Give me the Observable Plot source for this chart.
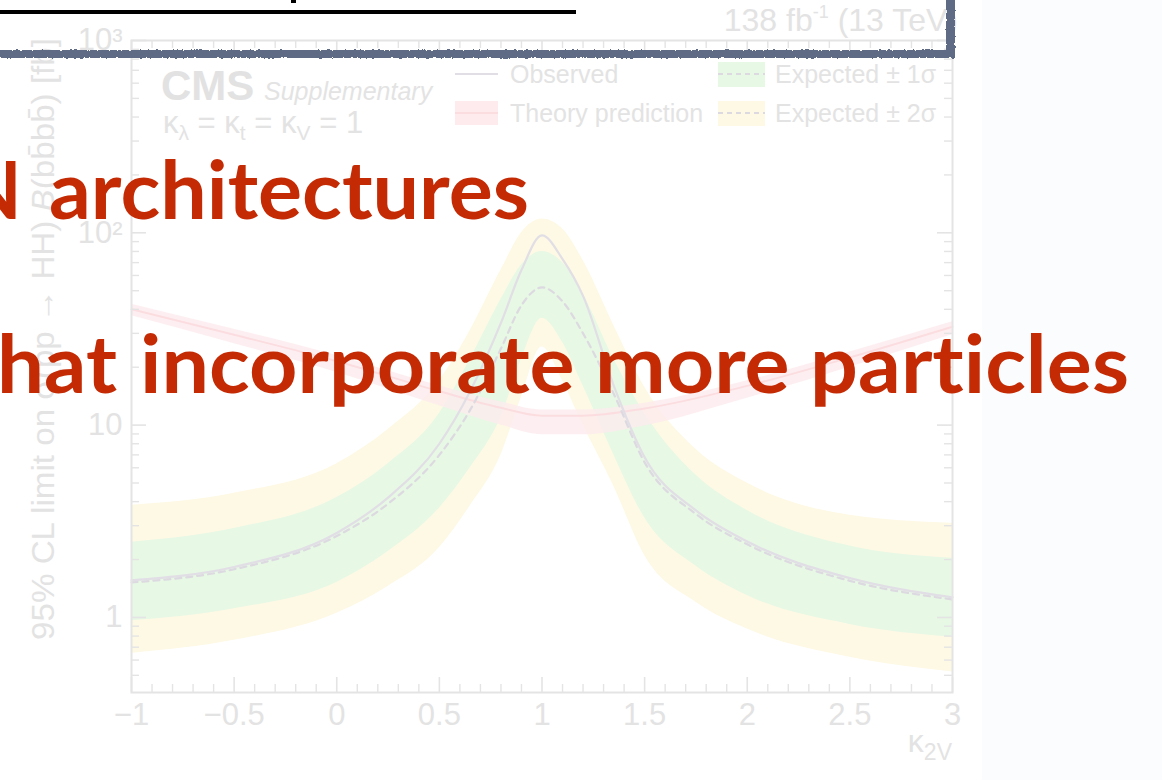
<!DOCTYPE html>
<html>
<head>
<meta charset="utf-8">
<script src="https://cdn.jsdelivr.net/npm/d3@7"></script>
<script src="https://cdn.jsdelivr.net/npm/@observablehq/plot@0.6"></script>
<style>
  html, body { margin: 0; padding: 0; width: 1162px; height: 780px; overflow: hidden; background: #fbfcfe; }
  #chart { position: absolute; left: 0; top: 0; width: 982px; height: 780px; background: #ffffff; }
  #overlay { position: absolute; left: 0; top: 0; pointer-events: none; }
  .slide { font-variant-ligatures: none; font-feature-settings: "liga" 0, "clig" 0; }
</style>
</head>
<body>
<div id="chart"></div>
<svg id="overlay" width="1162" height="780" xmlns="http://www.w3.org/2000/svg"></svg>
<script>
// ---- data (kappa_2V scan, limits in fb) ----
const kappa    = [-1, -0.5, 0, 0.25, 0.5, 0.65, 0.8, 0.9, 1.0, 1.1, 1.2, 1.35, 1.5, 1.75, 2.0, 2.5, 3.0];
const observed = [1.56, 1.83, 2.75, 4.2, 8.0, 15, 34, 64, 97, 73, 47, 16, 6.8, 3.6, 2.48, 1.6, 1.27];
const expected = [1.52, 1.78, 2.65, 3.9, 7.0, 12, 25, 42, 52, 44, 30, 14.5, 6.4, 3.45, 2.4, 1.55, 1.24];
const sigma1Lo = [0.96, 1.11, 1.52, 2.2, 3.7, 6, 11, 22, 36, 27, 16, 7, 3.3, 1.85, 1.3, 0.92, 0.79];
const sigma1Hi = [2.46, 2.9, 4.2, 6.3, 11.5, 22, 45, 68, 80, 70, 48, 22, 11.5, 5.5, 3.6, 2.35, 2.03];
const sigma2Lo = [0.65, 0.76, 1.05, 1.45, 2.3, 3.8, 7.0, 14, 25.5, 17, 10, 4.8, 2.1, 1.2, 0.87, 0.62, 0.52];
const sigma2Hi = [3.83, 4.42, 6.3, 9.5, 17, 31, 64, 100, 118, 105, 72, 33, 15.8, 7.5, 5.0, 3.4, 3.09];

const theoryKappa = [-1, -0.5, 0, 0.5, 0.8, 1.0, 1.2, 1.5, 2.0, 2.5, 3.0];
const theory      = [40, 29.5, 21.5, 15, 12.3, 11.2, 11.2, 12.2, 16, 22.5, 32.5];
const theoryLo    = [37, 26.5, 18.8, 12.6, 10, 8.9, 8.9, 9.9, 13.8, 20, 29.5];
const theoryHi    = [42.5, 31.5, 23, 16, 13.2, 12, 12, 13, 17, 24, 34.5];

// ---- ticks & labels ----
const xMajorTicks = [-1, -0.5, 0, 0.5, 1, 1.5, 2, 2.5, 3];
const xTickLabels = ["\u22121", "\u22120.5", "0", "0.5", "1", "1.5", "2", "2.5", "3"];
const xMinorTicks = [-0.9, -0.8, -0.7, -0.6, -0.4, -0.3, -0.2, -0.1, 0.1, 0.2, 0.3, 0.4, 0.6, 0.7, 0.8, 0.9,
                     1.1, 1.2, 1.3, 1.4, 1.6, 1.7, 1.8, 1.9, 2.1, 2.2, 2.3, 2.4, 2.6, 2.7, 2.8, 2.9];
const yMajorTicks = [1, 10, 100, 1000];
const yTickLabels = ["1", "10", "10\u00B2", "10\u00B3"];
const yMinorTicks = [0.5, 0.6, 0.7, 0.8, 0.9, 2, 3, 4, 5, 6, 7, 8, 9, 20, 30, 40, 50, 60, 70, 80, 90,
                     200, 300, 400, 500, 600, 700, 800, 900];

const bandRows = kappa.map((k, i) => ({k, obs: observed[i], exp: expected[i],
  s1lo: sigma1Lo[i], s1hi: sigma1Hi[i], s2lo: sigma2Lo[i], s2hi: sigma2Hi[i]}));
const theoryRows = theoryKappa.map((k, i) => ({k, v: theory[i], lo: theoryLo[i], hi: theoryHi[i]}));
const xLabelOf = new Map(xMajorTicks.map((d, i) => [d, xTickLabels[i]]));
const yLabelOf = new Map(yMajorTicks.map((d, i) => [d, yTickLabels[i]]));

const W = 982, H = 780, ML = 131, MR = 30, MT = 40, MB = 88;
const innerW = W - ML - MR, innerH = H - MT - MB;
const axisCol = "#e4e4e4";

const plot = Plot.plot({
  width: W, height: H,
  marginLeft: ML, marginRight: MR, marginTop: MT, marginBottom: MB,
  style: {background: "transparent", color: axisCol, fontFamily: "'Liberation Sans', Arial, sans-serif"},
  x: {domain: [-1, 3], label: null},
  y: {type: "log", domain: [0.407, 1000], label: null},
  marks: [
    Plot.areaY(bandRows, {x: "k", y1: "s2lo", y2: "s2hi", fill: "#fef9e5", curve: "monotone-x"}),
    Plot.areaY(bandRows, {x: "k", y1: "s1lo", y2: "s1hi", fill: "#e7f8e5", curve: "monotone-x"}),
    Plot.areaY(theoryRows, {x: "k", y1: "lo", y2: "hi", fill: "#fdebed", fillOpacity: 0.8, curve: "monotone-x"}),
    Plot.lineY(theoryRows, {x: "k", y: "v", stroke: "#fbdde0", strokeWidth: 2, curve: "monotone-x"}),
    Plot.lineY(bandRows, {x: "k", y: "exp", stroke: "#dcd9e0", strokeWidth: 2.2, strokeDasharray: "6,5", curve: "monotone-x"}),
    Plot.lineY(bandRows, {x: "k", y: "obs", stroke: "#e1dee5", strokeWidth: 2.2, curve: "monotone-x"}),
    // ticks (inside, both sides)
    Plot.tickX(xMajorTicks, {x: d => d, insetTop: innerH - 15, stroke: axisCol, strokeWidth: 1.6}),
    Plot.tickX(xMajorTicks, {x: d => d, insetBottom: innerH - 15, stroke: axisCol, strokeWidth: 1.6}),
    Plot.tickX(xMinorTicks, {x: d => d, insetTop: innerH - 8, stroke: axisCol, strokeWidth: 1.4}),
    Plot.tickX(xMinorTicks, {x: d => d, insetBottom: innerH - 8, stroke: axisCol, strokeWidth: 1.4}),
    Plot.tickY(yMajorTicks, {y: d => d, insetRight: innerW - 15, stroke: axisCol, strokeWidth: 1.6}),
    Plot.tickY(yMajorTicks, {y: d => d, insetLeft: innerW - 15, stroke: axisCol, strokeWidth: 1.6}),
    Plot.tickY(yMinorTicks, {y: d => d, insetRight: innerW - 8, stroke: axisCol, strokeWidth: 1.4}),
    Plot.tickY(yMinorTicks, {y: d => d, insetLeft: innerW - 8, stroke: axisCol, strokeWidth: 1.4}),
    Plot.frame({stroke: axisCol, strokeWidth: 2}),
    Plot.axisX({ticks: xMajorTicks, tickFormat: d => xLabelOf.get(d), tickSize: 0, tickPadding: 10,
                fontSize: 31, label: null, fill: "#e3e3e3"}),
    Plot.axisY({ticks: yMajorTicks, tickFormat: d => yLabelOf.get(d), tickSize: 0, tickPadding: 9,
                fontSize: 31, label: null, fill: "#e3e3e3"})
  ]
});
document.getElementById("chart").appendChild(plot);

// ---- annotations (chart labels, legend, slide overlay) ----
const ov = d3.select("#overlay");
const FF = "'Liberation Sans', Arial, sans-serif";
const txtCol = "#e3e3e3";

// CMS label
ov.append("text").attr("x", 161).attr("y", 100).attr("font-family", FF).attr("font-weight", "bold")
  .attr("font-size", 42).attr("fill", "#e2e2e2").text("CMS");
ov.append("text").attr("x", 264).attr("y", 100).attr("font-family", FF).attr("font-style", "italic")
  .attr("font-size", 25).attr("fill", txtCol).text("Supplementary");
const kl = ov.append("text").attr("x", 163).attr("y", 133).attr("font-family", FF).attr("font-size", 31).attr("fill", txtCol);
kl.append("tspan").text("\u03BA");
kl.append("tspan").attr("font-size", 21).attr("dy", 7).text("\u03BB");
kl.append("tspan").attr("dy", -7).text(" = \u03BA");
kl.append("tspan").attr("font-size", 21).attr("dy", 7).text("t");
kl.append("tspan").attr("dy", -7).text(" = \u03BA");
kl.append("tspan").attr("font-size", 21).attr("dy", 7).text("V");
kl.append("tspan").attr("dy", -7).text(" = 1");

// luminosity
const lum = ov.append("text").attr("x", 958).attr("y", 31).attr("text-anchor", "end").attr("font-family", FF)
  .attr("font-size", 32).attr("fill", txtCol);
lum.append("tspan").text("138 fb");
lum.append("tspan").attr("font-size", 18).attr("dy", -13).text("-1");
lum.append("tspan").attr("dy", 13).text(" (13 TeV)");

// legend
ov.append("line").attr("x1", 455).attr("x2", 498).attr("y1", 74).attr("y2", 74).attr("stroke", "#e1dee5").attr("stroke-width", 2.2);
ov.append("text").attr("x", 510).attr("y", 83).attr("font-family", FF).attr("font-size", 25).attr("fill", txtCol).text("Observed");
ov.append("rect").attr("x", 455).attr("y", 101).attr("width", 43).attr("height", 24).attr("fill", "#fdebed");
ov.append("line").attr("x1", 455).attr("x2", 498).attr("y1", 113).attr("y2", 113).attr("stroke", "#fbdde0").attr("stroke-width", 2);
ov.append("text").attr("x", 510).attr("y", 122).attr("font-family", FF).attr("font-size", 25).attr("fill", txtCol).text("Theory prediction");
ov.append("rect").attr("x", 718).attr("y", 62).attr("width", 47).attr("height", 25).attr("fill", "#e7f8e5");
ov.append("line").attr("x1", 718).attr("x2", 765).attr("y1", 74).attr("y2", 74).attr("stroke", "#dcd9e0").attr("stroke-width", 2).attr("stroke-dasharray", "5,4");
ov.append("text").attr("x", 775).attr("y", 83).attr("font-family", FF).attr("font-size", 25).attr("fill", txtCol).text("Expected \u00B1 1\u03C3");
ov.append("rect").attr("x", 718).attr("y", 101).attr("width", 47).attr("height", 25).attr("fill", "#fef9e5");
ov.append("line").attr("x1", 718).attr("x2", 765).attr("y1", 113).attr("y2", 113).attr("stroke", "#dcd9e0").attr("stroke-width", 2).attr("stroke-dasharray", "5,4");
ov.append("text").attr("x", 775).attr("y", 122).attr("font-family", FF).attr("font-size", 25).attr("fill", txtCol).text("Expected \u00B1 2\u03C3");

// axis titles
const xt = ov.append("text").attr("x", 952).attr("y", 752).attr("text-anchor", "end").attr("font-family", FF)
  .attr("font-size", 32).attr("fill", txtCol);
xt.append("tspan").text("\u03BA");
xt.append("tspan").attr("font-size", 23).attr("dy", 8).text("2V");

const yt = ov.append("text").attr("transform", "translate(54,38) rotate(-90)").attr("text-anchor", "end")
  .attr("font-family", FF).attr("font-size", 31).attr("fill", txtCol)
  .attr("textLength", 602).attr("lengthAdjust", "spacingAndGlyphs");
yt.append("tspan").text("95% CL limit on \u03C3(pp \u2192 HH) ");
yt.append("tspan").attr("font-style", "italic").text("B");
yt.append("tspan").text("(bb\u0304bb\u0304) [fb]");

// slide decorations
ov.append("rect").attr("x", 0).attr("y", 10).attr("width", 576).attr("height", 4).attr("fill", "#000");
ov.append("rect").attr("x", 291).attr("y", 0).attr("width", 5).attr("height", 3).attr("fill", "#000");
const defs = ov.append("defs");
const filt = defs.append("filter").attr("id", "rough").attr("x", "-5%").attr("y", "-50%").attr("width", "110%").attr("height", "200%");
filt.append("feTurbulence").attr("type", "fractalNoise").attr("baseFrequency", "0.35").attr("numOctaves", 2).attr("result", "n");
filt.append("feDisplacementMap").attr("in", "SourceGraphic").attr("in2", "n").attr("scale", 3);
const chalk = ov.append("g").attr("filter", "url(#rough)").attr("fill", "#5f6b85");
chalk.append("rect").attr("x", 0).attr("y", 50).attr("width", 955).attr("height", 8);
chalk.append("rect").attr("x", 946).attr("y", 0).attr("width", 9).attr("height", 58);

// slide text
const RED = "#c42b05";
const SF = "Lato, 'Open Sans', sans-serif";
const slide = ov.append("g").attr("class", "slide").attr("font-family", SF).attr("font-weight", 700)
  .attr("font-size", 80).attr("fill", RED);
slide.append("text").attr("x", 22).attr("y", 219).attr("text-anchor", "end").text("N");
slide.append("text").attr("x", 49).attr("y", 219).attr("textLength", 480).attr("lengthAdjust", "spacingAndGlyphs").text("architectures");
slide.append("text").attr("x", -3).attr("y", 393).attr("textLength", 120).attr("lengthAdjust", "spacingAndGlyphs").text("hat");
slide.append("text").attr("x", 140).attr("y", 393).attr("textLength", 989).attr("lengthAdjust", "spacingAndGlyphs").text("incorporate more particles");
</script>
</body>
</html>
